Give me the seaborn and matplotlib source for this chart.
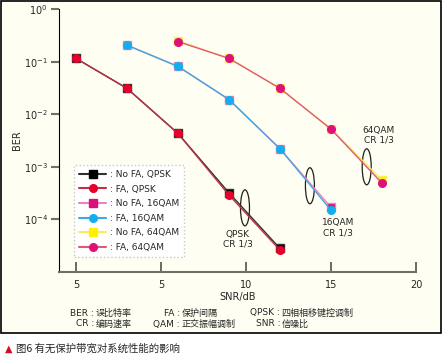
import numpy as np
import pandas as pd
import seaborn as sns
import matplotlib.pyplot as plt
from matplotlib.patches import Ellipse, Rectangle
from matplotlib.transforms import ScaledTranslation
from matplotlib.lines import Line2D

# data (SNR in dB, BER)
snr_qpsk = [0, 3, 6, 9, 12]
snr_16qam = [3, 6, 9, 12, 15]
snr_64qam = [6, 9, 12, 15, 18]

ber_nofa_qpsk = [0.115, 0.031, 0.0043, 3.2e-4, 2.8e-5]
ber_fa_qpsk = [0.115, 0.031, 0.0043, 2.9e-4, 2.6e-5]
ber_nofa_16qam = [0.205, 0.081, 0.019, 0.0022, 1.7e-4]
ber_fa_16qam = [0.205, 0.081, 0.019, 0.0022, 1.5e-4]
ber_nofa_64qam = [0.25, 0.115, 0.031, 0.0053, 5.6e-4]
ber_fa_64qam = [0.24, 0.115, 0.031, 0.0052, 4.9e-4]

labels = [': No FA, QPSK', ': FA, QPSK', ': No FA, 16QAM',
          ': FA, 16QAM', ': No FA, 64QAM', ': FA, 64QAM']
x_ticks = [0, 5, 10, 15, 20]
x_ticklabels = ['5', '5', '10', '15', '20']
y_ticks = [1, 1e-1, 1e-2, 1e-3, 1e-4]
y_ticklabels = ['$10^{0}$', '$10^{-1}$', '$10^{-2}$', '$10^{-3}$', '$10^{-4}$']

series = [
    (snr_qpsk, ber_nofa_qpsk, '#303030', 's', '#000000'),
    (snr_qpsk, ber_fa_qpsk, '#c03048', 'o', '#e8002a'),
    (snr_16qam, ber_nofa_16qam, '#f080c0', 's', '#d8107a'),
    (snr_16qam, ber_fa_16qam, '#40a8e0', 'o', '#10b0f0'),
    (snr_64qam, ber_nofa_64qam, '#f4ee60', 's', '#fff000'),
    (snr_64qam, ber_fa_64qam, '#e05878', 'o', '#e0107a'),
]

rows = []
for lab, (xs, ys, *_ ) in zip(labels, series):
    for x, y in zip(xs, ys):
        rows.append({'snr': x, 'ber': y, 'curve': lab})
df = pd.DataFrame(rows)

sns.set_style('ticks')
plt.rcParams['font.family'] = ['DejaVu Sans', 'Noto Sans CJK SC']
bg = '#fefef2'

fig = plt.figure(figsize=(4.43, 3.56), dpi=100)
fig.patch.set_facecolor('white')
fig.patches.append(Rectangle((0.002, 1 - 333 / 356), 0.994, 333 / 356 - 0.002,
                             transform=fig.transFigure, facecolor=bg,
                             edgecolor='black', lw=1.2, zorder=-10))
ax = fig.add_axes([59 / 443, 1 - 272 / 356, 357 / 443, 263 / 356])
ax.set_facecolor(bg)

for lab, (xs, ys, lc, mk, mc) in zip(labels, series):
    sns.lineplot(data=df[df['curve'] == lab], x='snr', y='ber', ax=ax,
                 color=lc, lw=1, marker=mk, markersize=5.5,
                 markerfacecolor=mc, markeredgecolor=mc if mk == 'o' else lc,
                 markeredgewidth=1, legend=False)

ax.set_yscale('log')
ax.set_xlim(-1, 20)
ax.set_ylim(1e-5, 1)
ax.set_xticks(x_ticks)
ax.set_xticklabels(x_ticklabels)
ax.set_yticks(y_ticks)
ax.set_yticklabels(y_ticklabels)
ax.minorticks_off()
ax.tick_params(axis='y', direction='out', length=6, width=1.5, color='#707068',
               labelsize=7, pad=2)
ax.tick_params(axis='x', direction='in', length=7, width=1.2, color='#505048',
               labelsize=7, pad=6)
sns.despine(ax=ax)
ax.spines['left'].set_color('black')
ax.spines['bottom'].set_color('#707068')
ax.spines['bottom'].set_linewidth(1.5)
ax.set_xlabel('SNR/dB', fontsize=7, labelpad=1)
ax.set_ylabel('BER', fontsize=7)
ax.yaxis.set_label_coords(-0.104, 0.5)

# legend
handles = [Line2D([], [], color=lc, lw=1.5, marker=mk, markersize=5.5,
                  markerfacecolor=mc, markeredgecolor=mc)
           for (_, _, lc, mk, mc) in series]
leg = ax.legend(handles, labels, loc='lower left', bbox_to_anchor=(0.03, 0.04),
                fontsize=6.5, frameon=True, fancybox=False, handlelength=3,
                labelspacing=0.62, borderpad=0.55, handletextpad=0.4)
leg.get_frame().set_edgecolor('#c8c8c8')
leg.get_frame().set_linestyle(':')
leg.get_frame().set_facecolor('white')
leg.get_frame().set_alpha(1)

# ellipses marking the curves
for ex, ey in [(9.94, 10 ** -3.78), (13.76, 10 ** -3.36), (17.1, 10 ** -3.0)]:
    tr = fig.dpi_scale_trans + ScaledTranslation(ex, ey, ax.transData)
    ax.add_patch(Ellipse((0, 0), 0.09, 0.36, transform=tr, fill=False,
                         edgecolor='#202020', lw=0.9, clip_on=False))

ax.text(9.5, 10 ** -4.37, 'QPSK\nCR 1/3', fontsize=6.5, ha='center', va='center',
        linespacing=1.1)
ax.text(15.4, 10 ** -4.16, '16QAM\nCR 1/3', fontsize=6.5, ha='center', va='center',
        linespacing=1.1)
ax.text(17.8, 10 ** -2.4, '64QAM\nCR 1/3', fontsize=6.5, ha='center', va='center',
        linespacing=1.1)

# notes under the plot
cjk = ['Noto Sans CJK SC', 'DejaVu Sans']
notes = [
    (94, 313, 'BER', '误比特率'), (180, 313, 'FA', '保护间隔'), (280, 313, 'QPSK', '四相相移键控调制'),
    (94, 324, 'CR', '编码速率'), (180, 324, 'QAM', '正交振幅调制'), (280, 324, 'SNR', '信噪比'),
]
for px, py, key, val in notes:
    fig.text(px / 443, 1 - py / 356, key + ' :', fontsize=6.5, ha='right', va='center')
    fig.text(px / 443 + 0.003, 1 - py / 356, val, fontsize=6.5, ha='left', va='center',
             family=cjk)

fig.text(5 / 443, 1 - 349 / 356, '▲', color='#d01020', fontsize=7, ha='left',
         va='center', family=['DejaVu Sans'])
fig.text(16 / 443, 1 - 349 / 356, '图6 有无保护带宽对系统性能的影响', fontsize=7.5,
         ha='left', va='center', family=cjk)

fig.savefig('out.png', dpi=100, facecolor=fig.get_facecolor())
